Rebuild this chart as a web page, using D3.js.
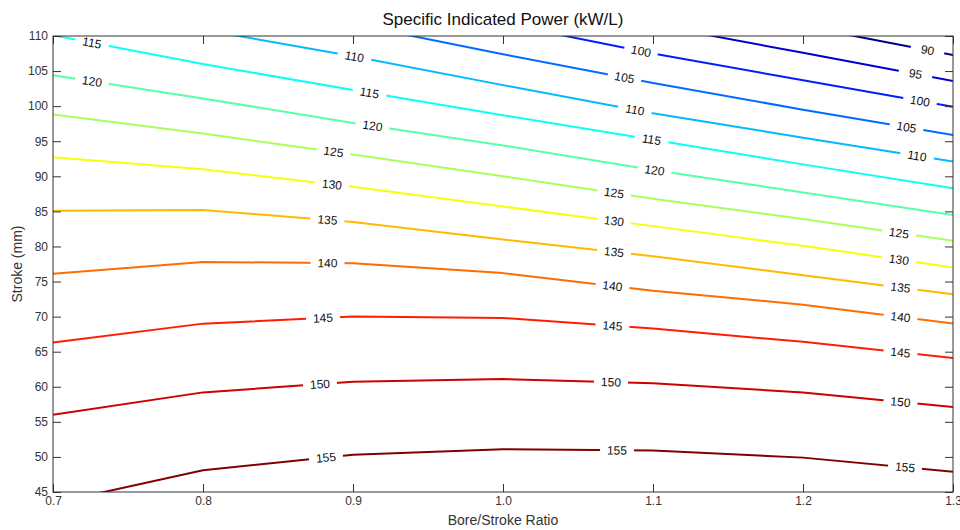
<!DOCTYPE html>
<html>
<head>
<meta charset="utf-8">
<title>Specific Indicated Power</title>
<script src="https://cdnjs.cloudflare.com/ajax/libs/d3/7.8.5/d3.min.js"></script>
<style>
  body { margin: 0; background: #fff; }
  svg { font-family: "Liberation Sans", Arial, sans-serif; }
  .axis text { fill: #333; font-size: 12px; }
  .axis line { stroke: #333; }
  .axis path { display: none; }
  .line { fill: none; stroke-width: 2px; stroke-linejoin: round; }
  .clabel { font-size: 12px; fill: #111; }
</style>
</head>
<body>
<svg id="chart" width="960" height="530"></svg>
<script>
// bore/stroke ratio grid
var bsr = [0.7, 0.8, 0.9, 1.0, 1.1, 1.2, 1.3];

// stroke (mm) of each contour level at every grid ratio (null = outside)
var levels = [90, 95, 100, 105, 110, 115, 120, 125, 130, 135, 140, 145, 150, 155];
var c090 = [null, null, null, null, null, 111.4, 107.3];
var c095 = [null, null, null, null, 111.6, 107.6, 103.6];
var c100 = [null, null, null, 111.8, 107.5, 103.7, 99.9];
var c105 = [null, null, 111.7, 107.4, 103.3, 99.5, 95.9];
var c110 = [null, 110.9, 107.1, 103.0, 99.0, 95.5, 92.1];
var c115 = [110.1, 106.0, 102.3, 98.7, 95.2, 91.7, 88.3];
var c120 = [104.4, 101.1, 97.6, 94.4, 90.9, 87.7, 84.5];
var c125 = [98.8, 96.1, 93.1, 90.0, 86.8, 83.9, 80.8];
var c130 = [92.7, 91.0, 88.5, 85.7, 82.9, 80.1, 77.0];
var c135 = [85.1, 85.2, 83.5, 81.0, 78.6, 75.9, 73.2];
var c140 = [76.1, 77.8, 77.6, 76.2, 73.7, 71.7, 69.0];
var c145 = [66.3, 69.0, 70.0, 69.8, 68.3, 66.4, 64.1];
var c150 = [56.0, 59.2, 60.7, 61.1, 60.5, 59.2, 57.1];
var c155 = [43.4, 48.1, 50.3, 51.1, 50.9, 49.9, 47.9];
var strokes = [c090, c095, c100, c105, c110, c115, c120, c125, c130, c135, c140, c145, c150, c155];

// inline label spots: [level, ratio]
var labelSpots = [
  [115, 0.726], [120, 0.726],
  [125, 0.887], [130, 0.886], [135, 0.883], [140, 0.883], [145, 0.880], [150, 0.878], [155, 0.882],
  [110, 0.901], [115, 0.911], [120, 0.913],
  [100, 1.092], [105, 1.081], [110, 1.088], [115, 1.099], [120, 1.101],
  [125, 1.074], [130, 1.074], [135, 1.074], [140, 1.073], [145, 1.073], [150, 1.072], [155, 1.076],
  [90, 1.283], [95, 1.275], [100, 1.278], [105, 1.269], [110, 1.276],
  [125, 1.264], [130, 1.264], [135, 1.265], [140, 1.265], [145, 1.265], [150, 1.265], [155, 1.268]
];

var xTicks = [0.7, 0.8, 0.9, 1.0, 1.1, 1.2, 1.3];
var yTicks = [45, 50, 55, 60, 65, 70, 75, 80, 85, 90, 95, 100, 105, 110];

var svg = d3.select("svg"),
    margin = {top: 36, right: 7, bottom: 38, left: 53},
    width = svg.attr("width") - margin.left - margin.right,
    height = svg.attr("height") - margin.top - margin.bottom,
    g = svg.append("g").attr("transform", "translate(" + margin.left + "," + margin.top + ")");

var x = d3.scaleLinear().domain([0.7, 1.3]).range([0, width]),
    y = d3.scaleLinear().domain([45, 110]).range([height, 0]);

// MATLAB jet colormap
function jet(t) {
  function c(v) { return Math.round(255 * Math.max(0, Math.min(1, v))); }
  return "rgb(" + c(1.5 - Math.abs(4 * t - 3)) + "," + c(1.5 - Math.abs(4 * t - 2)) + "," + c(1.5 - Math.abs(4 * t - 1)) + ")";
}
var color = function(lv) { return jet((lv - levels[0]) / (levels[levels.length - 1] - levels[0])); };

var contours = levels.map(function(lv, i) {
  return {level: lv, values: bsr.map(function(r, j) { return {r: r, s: strokes[i][j]}; })};
});

svg.append("defs").append("clipPath").attr("id", "clip")
  .append("rect").attr("width", width).attr("height", height);

var line = d3.line()
  .defined(function(d) { return d.s != null; })
  .x(function(d) { return x(d.r); })
  .y(function(d) { return y(d.s); });

var plot = g.append("g").attr("clip-path", "url(#clip)");

plot.selectAll(".line")
  .data(contours)
  .enter().append("path")
  .attr("class", "line")
  .attr("d", function(d) { return line(d.values); })
  .style("stroke", function(d) { return color(d.level); });

// position of a label on its contour
function spot(lv, r) {
  var vals = contours[levels.indexOf(lv)].values.filter(function(d) { return d.s != null; });
  for (var i = 0; i < vals.length - 1; i++) {
    var a = vals[i], b = vals[i + 1];
    if (r >= a.r && r <= b.r) {
      var t = (r - a.r) / (b.r - a.r);
      var px = x(r), py = y(a.s + t * (b.s - a.s));
      var ang = Math.atan2(y(b.s) - y(a.s), x(b.r) - x(a.r)) * 180 / Math.PI;
      return {x: px, y: py, a: ang};
    }
  }
  return null;
}

var labels = plot.selectAll(".lab")
  .data(labelSpots.map(function(d) { var p = spot(d[0], d[1]); p.level = d[0]; return p; }))
  .enter().append("g")
  .attr("class", "lab")
  .attr("transform", function(d) { return "translate(" + d.x + "," + d.y + ") rotate(" + d.a + ")"; });

labels.append("rect")
  .attr("x", -17).attr("y", -6)
  .attr("width", 34).attr("height", 12)
  .attr("fill", "#fff");

labels.append("text")
  .attr("class", "clabel")
  .attr("text-anchor", "middle")
  .attr("dy", "0.35em")
  .text(function(d) { return d.level; });

// axes, ticks point inward on all four sides
g.append("g")
  .attr("class", "axis axis--x")
  .attr("transform", "translate(0," + height + ")")
  .call(d3.axisBottom(x).tickValues(xTicks).tickFormat(d3.format(".1f")).tickSizeInner(-8).tickSizeOuter(0).tickPadding(4));

g.append("g")
  .attr("class", "axis axis--y")
  .call(d3.axisLeft(y).tickValues(yTicks).tickSizeInner(-8).tickSizeOuter(0).tickPadding(5));

g.append("g")
  .attr("class", "axis")
  .call(d3.axisTop(x).tickValues(xTicks).tickFormat("").tickSizeInner(-8).tickSizeOuter(0));

g.append("g")
  .attr("class", "axis")
  .attr("transform", "translate(" + width + ",0)")
  .call(d3.axisRight(y).tickValues(yTicks).tickFormat("").tickSizeInner(-8).tickSizeOuter(0));

g.append("rect")
  .attr("width", width).attr("height", height)
  .attr("fill", "none").attr("stroke", "#333").attr("stroke-width", 1);

svg.append("text")
  .attr("x", margin.left + width / 2).attr("y", 25)
  .attr("text-anchor", "middle")
  .style("font-size", "17px").attr("fill", "#111")
  .text("Specific Indicated Power (kW/L)");

svg.append("text")
  .attr("x", margin.left + width / 2).attr("y", 525)
  .attr("text-anchor", "middle")
  .style("font-size", "14px").attr("fill", "#333")
  .text("Bore/Stroke Ratio");

svg.append("text")
  .attr("transform", "translate(22," + (margin.top + height / 2) + ") rotate(-90)")
  .attr("text-anchor", "middle")
  .style("font-size", "14px").attr("fill", "#333")
  .text("Stroke (mm)");
</script>
</body>
</html>
